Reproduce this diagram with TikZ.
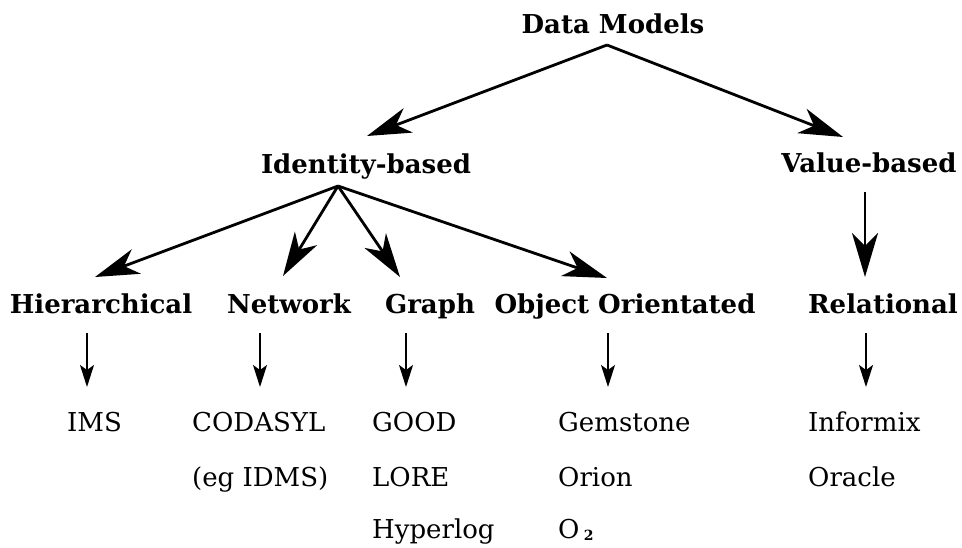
\documentclass[tikz,border=0pt]{standalone}
\usepackage{fontspec}
\setmainfont{DejaVu Serif}
\usetikzlibrary{arrows.meta}
\begin{document}
\begin{tikzpicture}[x=1pt,y=-1pt,
  head/.style={font=\fontsize{26}{30}\selectfont\bfseries, inner sep=0pt, anchor=base},
  item/.style={font=\fontsize{26}{30}\selectfont, inner sep=0pt, anchor=base west},
  big/.style={line width=2.8pt, -{Stealth[length=44pt,width=26pt,inset=13pt]}},
  small/.style={line width=1.7pt, -{Stealth[length=22pt,width=14pt,inset=5pt]}}]
\useasboundingbox (0,0) rectangle (962,547);
% heads
\node[head] (dm) at (613,33) {Data Models};
\node[head] (id) at (366,173) {Identity-based};
\node[head] (vb) at (869,172) {Value-based};
\node[head] (hi) at (101,313) {Hierarchical};
\node[head] (nw) at (289,313) {Network};
\node[head] (gr) at (430,313) {Graph};
\node[head] (oo) at (625,313) {Object Orientated};
\node[head] (re) at (883,313) {Relational};
% items
\node[item] (ims) at (67,431) {IMS};
\node[item] (cod) at (192,431) {CODASYL};
\node[item] (idms) at (192,486) {(eg IDMS)};
\node[item] (good) at (372,431) {GOOD};
\node[item] (lore) at (372,486) {LORE};
\node[item] (hyp) at (372,538) {Hyperlog};
\node[item] (gem) at (558,431) {Gemstone};
\node[item] (ori) at (558,486) {Orion};
\node[item] (o2) at (558,538) {O\,\raisebox{-0.2ex}{\fontsize{14}{16}\selectfont\bfseries 2}};
\node[item] (inf) at (808,431) {Informix};
\node[item] (ora) at (808,486) {Oracle};
% apex coordinates
\coordinate (dma) at (607,45);
\coordinate (ida) at (338,186);
\coordinate (idt) at (367,136);
\coordinate (vbt) at (843,137);
\coordinate (vbs) at (865,192);
\coordinate (ret) at (865,277);
\coordinate (hit) at (95,277);
\coordinate (nwt) at (283,276);
\coordinate (grt) at (400,277);
\coordinate (oot) at (607,278);
% big arrows
\draw[big] (dma) -- (idt);
\draw[big] (dma) -- (vbt);
\draw[big] (vbs) -- (ret);
\draw[big] (ida) -- (hit);
\draw[big] (ida) -- (nwt);
\draw[big] (ida) -- (grt);
\draw[big] (ida) -- (oot);
% small arrows
\foreach \n/\x in {h/87,n/260,g/406,o/608,r/866}{
  \coordinate (s\n) at (\x,333);
  \coordinate (e\n) at (\x,387);
  \draw[small] (s\n) -- (e\n);
}
\end{tikzpicture}
\end{document}
